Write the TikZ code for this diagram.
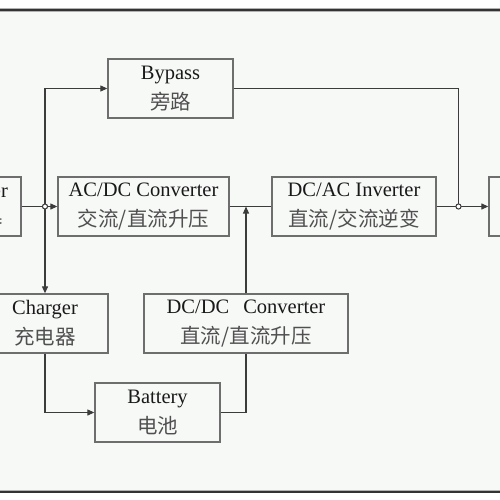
\documentclass[tikz,border=0pt]{standalone}
\usepackage{fontspec}
\setmainfont{Liberation Serif}
\newfontfamily\cjk{Noto Sans CJK SC}
\usetikzlibrary{arrows.meta}
\definecolor{bg}{HTML}{F7F9F7}
\definecolor{boxc}{HTML}{6E6E6E}
\definecolor{linec}{HTML}{3C3C3C}
\definecolor{cjkc}{HTML}{505050}
\tikzset{
  blk/.style={draw=boxc, line width=1.3pt, minimum height=59pt, inner sep=0pt,
              align=center, font=\fontsize{20.5}{30}\selectfont, text=black!90},
  conn/.style={draw=linec, line width=1.1pt},
  arr/.style={conn, -{Triangle[length=7pt,width=6pt]}},
  junc/.style={circle, draw=linec, fill=white, line width=0.9pt, minimum size=5pt, inner sep=0pt},
}
\newcommand{\zh}[1]{{\cjk\color{cjkc}#1}}
\begin{document}
\begin{tikzpicture}[x=1pt,y=-1pt]
\useasboundingbox (0,0) rectangle (500,500);
\fill[white] (0,0) rectangle (500,500);
\fill[bg] (0,10) rectangle (500,491);
\draw[gray!60, line width=3.5pt] (0,10) -- (500,10);
\draw[black!80, line width=2pt] (0,10) -- (500,10);
\draw[gray!60, line width=3.5pt] (0,491.5) -- (500,491.5);
\draw[black!80, line width=2pt] (0,491.5) -- (500,491.5);

% boxes
\node[blk, minimum width=98pt]  (rect)    at (-28,206.5) {Rectifier\\\zh{整流器}};
\node[blk, minimum width=125pt] (bypass)  at (170.5,88.5) {Bypass\\\zh{旁路}};
\node[blk, minimum width=171pt] (acdc)    at (143.5,206.5) {AC/DC Converter\\\zh{交流/直流升压}};
\node[blk, minimum width=164pt] (dcac)    at (354,206.5) {DC/AC Inverter\\\zh{直流/交流逆变}};
\node[blk, minimum width=132pt] (out)     at (555,206.5) {};
\node[blk, minimum width=126pt] (charger) at (45,323.5) {Charger\\\zh{充电器}};
\node[blk, minimum width=204pt] (dcdc)    at (246,323.5) {DC/DC\hspace{14pt}Converter\\\zh{直流/直流升压}};
\node[blk, minimum width=125pt] (battery) at (157.5,412.5) {Battery\\\zh{电池}};

% coordinates
\coordinate (t1) at (45,88.5);
\coordinate (t2) at (458.5,88.5);
\node[junc] (j1) at (45,206.5) {};
\node[junc] (j2) at (458.5,206.5) {};

% connectors
\draw[arr] (t1) -- (bypass.west);
\draw[arr] (t1) -- (charger.north);
\draw[conn] (rect.east) -- (j1);
\draw[arr] (j1) -- (acdc.west);
\draw[conn] (bypass.east) -- (t2) -- (j2);
\draw[conn] (acdc.east) -- (dcac.west);
\draw[arr] (dcdc.north) -- (dcdc.north |- acdc.east);
\draw[conn] (dcac.east) -- (j2);
\draw[arr] (j2) -- (out.west);
\draw[arr] (charger.south) |- (battery.west);
\draw[conn] (battery.east) -| (dcdc.south);
\node[junc] at (j1) {};
\node[junc] at (j2) {};
\end{tikzpicture}
\end{document}
